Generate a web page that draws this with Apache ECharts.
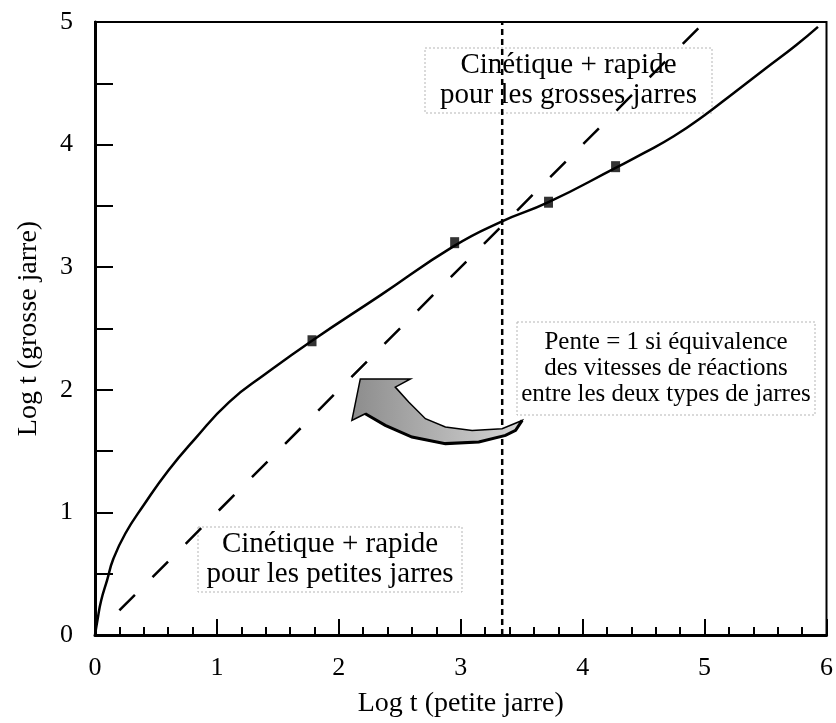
<!DOCTYPE html>
<html>
<head>
<meta charset="utf-8">
<script src="https://cdn.jsdelivr.net/npm/echarts@6/dist/echarts.min.js"></script>
<style>body{margin:0;background:#fff}#chart{width:836px;height:723px}</style>
</head>
<body>
<div id="chart"></div>
<script>
// courbe lissée (log t petite jarre -> log t grosse jarre)
var curveX = [0, 0.02, 0.05, 0.1, 0.15, 0.25, 0.4, 0.6, 0.82, 1.1, 1.4, 1.78, 2.34, 2.94, 3.33, 3.72, 4.27, 4.5, 4.75, 5.0, 5.25, 5.5, 5.75, 5.93];
var curveY = [0, 0.12, 0.28, 0.45, 0.62, 0.83, 1.06, 1.34, 1.6, 1.9, 2.13, 2.4, 2.77, 3.17, 3.37, 3.53, 3.81, 3.93, 4.07, 4.24, 4.43, 4.62, 4.81, 4.96];
// points mesurés
var pointsX = [1.78, 2.95, 3.72, 4.27];
var pointsY = [2.4, 3.2, 3.53, 3.82];
// droite de pente 1
var slopeX = [0.2, 5];
var slopeY = [0.2, 5];
// limite verticale
var limitX = [3.34, 3.34];
var limitY = [0, 5];
var xTicks = ['0', '1', '2', '3', '4', '5', '6'];
var yTicks = ['0', '1', '2', '3', '4', '5'];

// contour de la flèche (en coordonnées du graphique)
var ARROW = [
	[2.176, 2.089], [2.587, 2.089], [2.463, 2.022], [2.573, 1.900], [2.710, 1.764],
	[2.874, 1.697], [3.093, 1.669], [3.339, 1.683], [3.504, 1.750], [3.450, 1.669],
	[3.367, 1.628], [3.148, 1.575], [2.874, 1.561], [2.600, 1.615], [2.381, 1.710],
	[2.217, 1.805], [2.107, 1.750]
];
var ARROW_EDGE = [
	[3.504, 1.750], [3.450, 1.669], [3.367, 1.628], [3.148, 1.575], [2.874, 1.561],
	[2.600, 1.615], [2.381, 1.710], [2.217, 1.805]
];

function pairs(xs, ys){
	var out = [];
	for (var i = 0; i < xs.length; i++) out.push([xs[i], ys[i]]);
	return out;
}

var FONT = '"Liberation Serif", "DejaVu Serif", serif';

function textBox(x, y, w, h, lines, size, lineH){
	var children = [{
		type: 'rect',
		shape: {x: 0, y: 0, width: w, height: h},
		style: {fill: '#fff', stroke: '#b5b5b5', lineWidth: 1, lineDash: [2, 2]}
	}];
	var y0 = h / 2 - (lines.length - 1) * lineH / 2;
	for (var i = 0; i < lines.length; i++){
		children.push({
			type: 'text',
			style: {
				text: lines[i], x: w / 2, y: y0 + i * lineH,
				align: 'center', verticalAlign: 'middle',
				font: size + 'px ' + FONT, fill: '#000'
			}
		});
	}
	return {type: 'group', x: x, y: y, z: 50, children: children};
}

var chart = echarts.init(document.getElementById('chart'));

var axisCommon = {
	axisLine: {show: true, lineStyle: {color: '#000', width: 3}},
	splitLine: {show: false},
	nameLocation: 'middle',
	nameTextStyle: {color: '#000', fontSize: 28, fontFamily: FONT}
};

chart.setOption({
	backgroundColor: '#fff',
	animation: false,
	grid: {left: 95, right: 9, top: 22, bottom: 86, show: true, borderColor: '#000', borderWidth: 2},
	xAxis: Object.assign({}, axisCommon, {
		type: 'value', min: 0, max: 6, interval: 1,
		name: 'Log t (petite jarre)', nameGap: 55,
		axisTick: {inside: true, length: 16, lineStyle: {color: '#000', width: 2}},
		minorTick: {show: true, splitNumber: 5, length: 8, lineStyle: {color: '#000', width: 2}},
		axisLabel: {color: '#000', fontSize: 26, fontFamily: FONT, margin: 20,
			formatter: function(v){ return xTicks[Math.round(v)]; }}
	}),
	yAxis: Object.assign({}, axisCommon, {
		type: 'value', min: 0, max: 5, interval: 1,
		name: 'Log t (grosse jarre)', nameGap: 52,
		axisTick: {inside: true, length: 18, lineStyle: {color: '#000', width: 2}},
		minorTick: {show: true, splitNumber: 2, length: 18, lineStyle: {color: '#000', width: 2}},
		axisLabel: {color: '#000', fontSize: 26, fontFamily: FONT, margin: 22,
			formatter: function(v){ return yTicks[Math.round(v)]; }}
	}),
	graphic: [
		textBox(425, 48, 287, 65, ['Cinétique + rapide', 'pour les grosses jarres'], 29, 30),
		textBox(517, 322, 298, 93, ['Pente = 1 si équivalence', 'des vitesses de réactions', 'entre les deux types de jarres'], 25, 26),
		textBox(198, 527, 264, 65, ['Cinétique + rapide', 'pour les petites jarres'], 29, 30)
	],
	series: [
		{
			type: 'line', data: pairs(slopeX, slopeY), symbol: 'none', z: 2,
			lineStyle: {color: '#000', width: 2.5, type: [22, 25]}
		},
		{
			type: 'line', data: pairs(limitX, limitY), symbol: 'none', z: 2,
			lineStyle: {color: '#000', width: 2.5, type: [6, 4]}
		},
		{
			type: 'custom', z: 3, data: [[0, 0]],
			renderItem: function(params, api){
				var pts = ARROW.map(function(p){ return api.coord(p); });
				var edge = ARROW_EDGE.map(function(p){ return api.coord(p); });
				return {type: 'group', children: [
					{type: 'polygon', shape: {points: pts}, style: {
						fill: new echarts.graphic.LinearGradient(0, 0, 1, 0, [
							{offset: 0, color: '#8c8c8c'}, {offset: 1, color: '#d6d6d6'}
						]),
						stroke: '#000', lineWidth: 1.5}},
					{type: 'polyline', shape: {points: edge}, style: {stroke: '#000', lineWidth: 3, fill: null}}
				]};
			}
		},
		{
			type: 'line', data: pairs(curveX, curveY), smooth: true, symbol: 'none', z: 4,
			lineStyle: {color: '#000', width: 2.5}
		},
		{
			type: 'scatter', data: pairs(pointsX, pointsY), symbol: 'rect', symbolSize: [9, 11], z: 5,
			itemStyle: {color: '#000'}
		}
	]
});
</script>
</body>
</html>
